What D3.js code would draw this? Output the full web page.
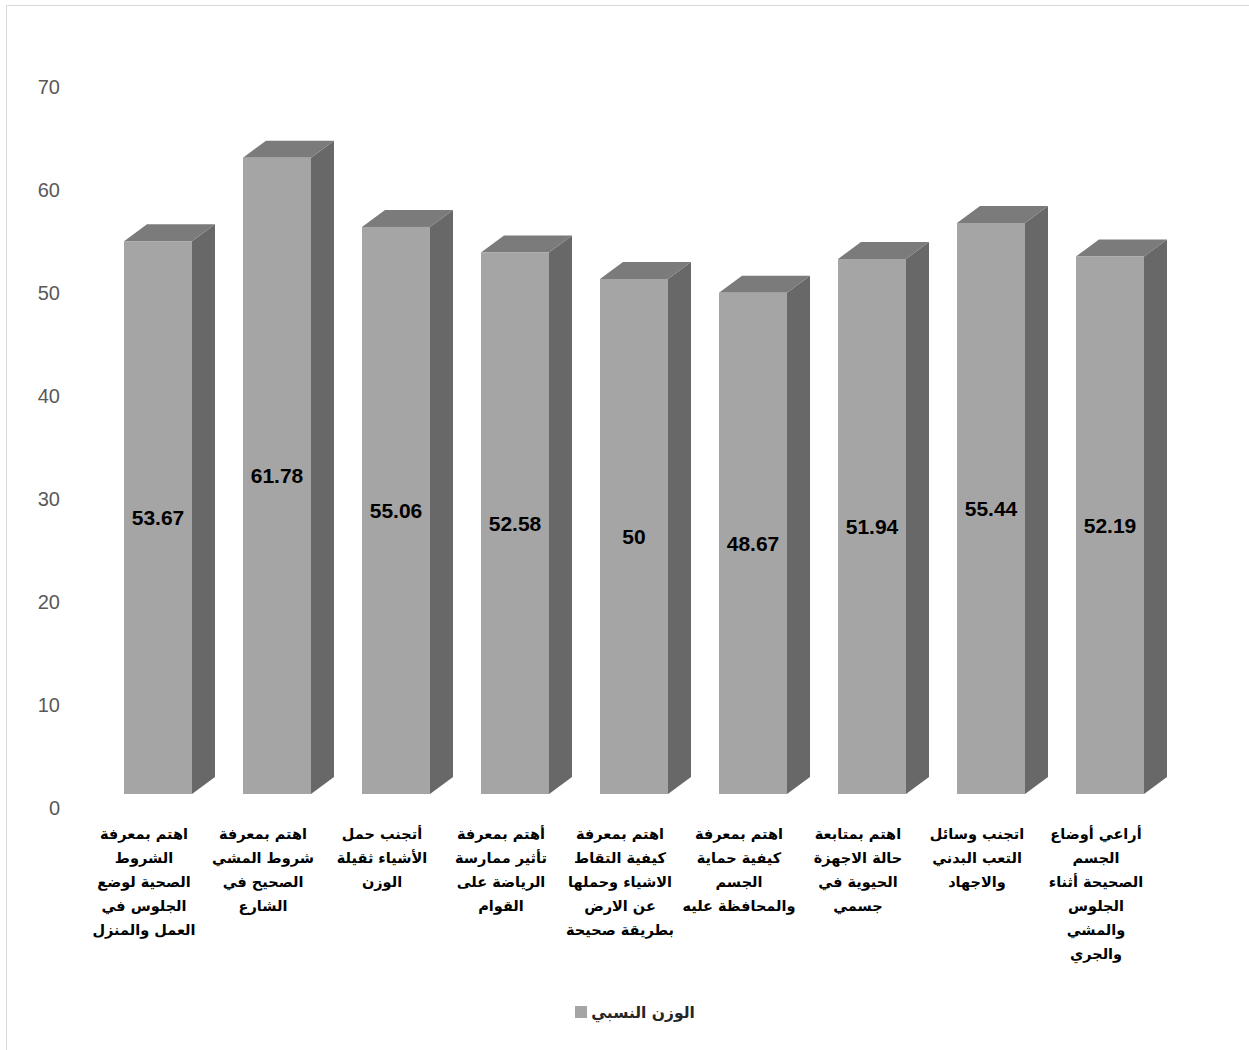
<!DOCTYPE html>
<html><head><meta charset="utf-8">
<script src="https://cdn.jsdelivr.net/npm/d3@7"></script>
<style>html,body{margin:0;padding:0;background:#fff;}</style>
</head><body>
<svg id="chart" width="1249" height="1050"></svg>
<script>
const categories = [
  ["اهتم بمعرفة", "الشروط", "الصحية لوضع", "الجلوس في", "العمل والمنزل"],
  ["اهتم بمعرفة", "شروط المشي", "الصحيح في", "الشارع"],
  ["أتجنب حمل", "الأشياء ثقيلة", "الوزن"],
  ["أهتم بمعرفة", "تأثير ممارسة", "الرياضة على", "القوام"],
  ["اهتم بمعرفة", "كيفية التقاط", "الاشياء وحملها", "عن الارض", "بطريقة صحيحة"],
  ["اهتم بمعرفة", "كيفية حماية", "الجسم", "والمحافظة عليه"],
  ["اهتم بمتابعة", "حالة الاجهزة", "الحيوية في", "جسمي"],
  ["اتجنب وسائل", "التعب البدني", "والاجهاد"],
  ["أراعي أوضاع", "الجسم", "الصحيحة أثناء", "الجلوس", "والمشي", "والجري"]
];
const values = [53.67, 61.78, 55.06, 52.58, 50, 48.67, 51.94, 55.44, 52.19];
const yTicks = [0, 10, 20, 30, 40, 50, 60, 70];
const seriesName = "الوزن النسبي";

const svg = d3.select("#chart");
svg.append("rect").attr("x", 6.5).attr("y", 5.5).attr("width", 1260).attr("height", 1070)
  .attr("fill", "none").attr("stroke", "#d9d9d9").attr("stroke-width", 1);

const keys = categories.map(c => c.join(" "));
const x = d3.scaleBand().domain(keys).range([98.5, 1169.5]).paddingInner(0.4286).paddingOuter(0.2143);
const y = d3.scaleLinear().domain([0, 70]).range([794, 73]);
const dx = 23, dy = 17;
const bw = x.bandwidth();

// y axis labels
const yAxis = d3.axisLeft(y).tickValues(yTicks).tickSize(0).tickPadding(0);
const gy = svg.append("g").attr("transform", "translate(60,14)").call(yAxis);
gy.select(".domain").remove();
gy.selectAll("text").attr("font-family", "Liberation Sans, Arial, sans-serif")
  .attr("font-size", 20).attr("fill", "#595959");

const data = keys.map((k, i) => ({k, v: values[i], lines: categories[i]}));
const g = svg.append("g");
const bars = g.selectAll("g.bar").data(data).join("g").attr("class", "bar");
const y0 = y(0);
bars.append("path").attr("fill", "#686868").attr("d", d => {
  const x0 = x(d.k), yt = y(d.v);
  return `M${x0+bw},${yt}L${x0+bw+dx},${yt-dy}L${x0+bw+dx},${y0-dy}L${x0+bw},${y0}Z`;
});
bars.append("path").attr("fill", "#7b7b7b").attr("d", d => {
  const x0 = x(d.k), yt = y(d.v);
  return `M${x0},${yt}L${x0+dx},${yt-dy}L${x0+bw+dx},${yt-dy}L${x0+bw},${yt}Z`;
});
bars.append("rect").attr("fill", "#a5a5a5")
  .attr("x", d => x(d.k)).attr("y", d => y(d.v))
  .attr("width", bw).attr("height", d => y0 - y(d.v));
bars.append("text").attr("x", d => x(d.k) + bw/2).attr("y", d => (y(d.v) + y0)/2)
  .attr("dy", "0.36em").attr("text-anchor", "middle")
  .attr("font-family", "Liberation Sans, Arial, sans-serif").attr("font-weight", "bold")
  .attr("font-size", 21).attr("fill", "#000").text(d => d.v);

// category labels
const labels = svg.append("g");
data.forEach(d => {
  const cx = x(d.k) + bw/2 - 14;
  const t = labels.append("text").attr("text-anchor", "middle")
    .attr("font-family", "DejaVu Sans, Liberation Sans, sans-serif").attr("font-weight", "bold")
    .attr("font-size", 14.5).attr("fill", "#000");
  d.lines.forEach((ln, j) => {
    t.append("tspan").attr("x", cx).attr("y", 839 + j*24).text(ln);
  });
});

// legend
svg.append("rect").attr("x", 575).attr("y", 1006).attr("width", 12).attr("height", 12).attr("fill", "#a5a5a5");
svg.append("text").attr("x", 643).attr("y", 1018).attr("text-anchor", "middle")
  .attr("font-family", "DejaVu Sans, Liberation Sans, sans-serif").attr("font-weight", "bold")
  .attr("font-size", 15.5).attr("fill", "#262626").text(seriesName);
</script>
</body></html>
